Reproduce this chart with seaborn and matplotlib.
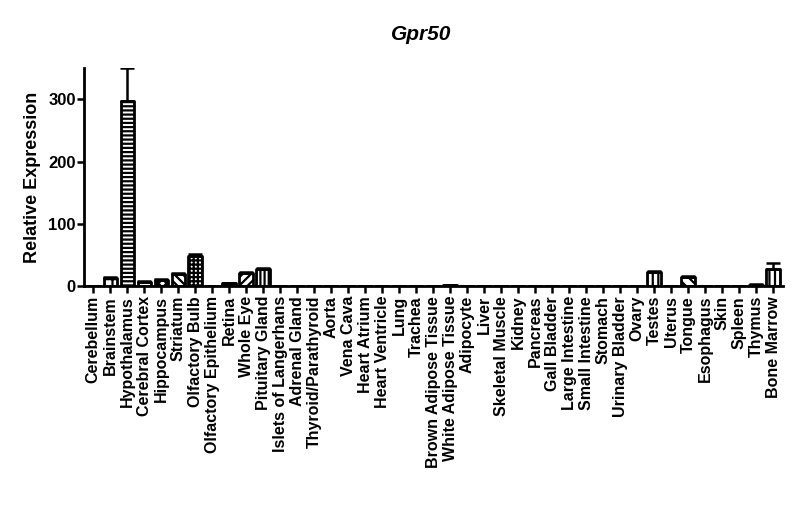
import matplotlib
matplotlib.use("Agg")
import matplotlib.pyplot as plt
import seaborn as sns
import pandas as pd
import numpy as np

tissues = [
    "Cerebellum", "Brainstem", "Hypothalamus", "Cerebral Cortex", "Hippocampus",
    "Striatum", "Olfactory Bulb", "Olfactory Epithelium", "Retina", "Whole Eye",
    "Pituitary Gland", "Islets of Langerhans", "Adrenal Gland", "Thyroid/Parathyroid",
    "Aorta", "Vena Cava", "Heart Atrium", "Heart Ventricle", "Lung", "Trachea",
    "Brown Adipose Tissue", "White Adipose Tissue", "Adipocyte", "Liver",
    "Skeletal Muscle", "Kidney", "Pancreas", "Gall Bladder", "Large Intestine",
    "Small Intestine", "Stomach", "Urinary Bladder", "Ovary", "Testes", "Uterus",
    "Tongue", "Esophagus", "Skin", "Spleen", "Thymus", "Bone Marrow",
]
expression = [
    0.3, 13, 298, 7, 10,
    19, 49, 0.5, 4.5, 21,
    27, 0.3, 0.3, 0.3,
    0.3, 0.3, 0.3, 0.3, 0.3, 0.3,
    0.3, 1.5, 0.3, 0.3,
    0.3, 0.3, 0.3, 0.3, 0.3,
    0.3, 0.3, 0.3, 0.3, 22, 0.3,
    15, 0.3, 0.3, 0.3, 2.5, 28,
]
sem = [
    0, 1.5, 52, 0.8, 1,
    1.5, 2.5, 0, 0.5, 1.5,
    2, 0, 0, 0,
    0, 0, 0, 0, 0, 0,
    0, 0.3, 0, 0,
    0, 0, 0, 0, 0,
    0, 0, 0, 0, 2.5, 0,
    1.5, 0, 0, 0, 0.3, 10,
]

# hatch pattern per bar (GraphPad style)
hatches = [
    "", "++", "----", "---", "xxxx",
    "\\\\\\\\", "++++", "", "oooo", "////",
    "||||", "", "----", "xxxx",
    "", "////", "", "||||", "", "----",
    "", "\\\\\\\\", "", "||||",
    "", "xxxx", "", "----", "",
    "////", "", "||||", "", "|||", "",
    "\\\\\\", "", "----", "", "////", "|||",
]

df = pd.DataFrame({"tissue": tissues, "expr": expression, "sem": sem})

sns.set_style("ticks")
plt.rcParams["font.family"] = ["Liberation Sans", "DejaVu Sans"]
plt.rcParams["font.weight"] = "bold"
plt.rcParams["text.color"] = "black"
plt.rcParams["axes.labelcolor"] = "black"
plt.rcParams["xtick.color"] = "black"
plt.rcParams["ytick.color"] = "black"
plt.rcParams["axes.edgecolor"] = "black"
plt.rcParams["hatch.linewidth"] = 1.6
plt.rcParams["hatch.color"] = "black"

fig = plt.figure(figsize=(8, 5.28), dpi=100)
ax = fig.add_axes([0.105, 0.458, 0.874, 0.413])

sns.barplot(data=df, x="tissue", y="expr", color="white", edgecolor="black",
            linewidth=2.0, width=0.8, errorbar=None, ax=ax)
for bar, h in zip(ax.patches, hatches):
    bar.set_hatch(h)
    bar.set_facecolor("white")
    bar.set_joinstyle("round")

xs = np.arange(len(tissues))
ax.errorbar(xs, df["expr"], yerr=[np.zeros(len(sem)), df["sem"]], fmt="none",
            ecolor="black", elinewidth=1.8, capsize=5, capthick=1.8, zorder=3)

ax.set_xlim(-0.55, len(tissues) - 0.4)
ax.set_ylim(0, 350)
ax.set_yticks([0, 100, 200, 300])
ax.set_xlabel("")
ax.set_ylabel("Relative Expression", fontsize=13, fontweight="bold", labelpad=5)
ax.tick_params(axis="x", rotation=90, labelsize=11.5, width=1.8, length=5, pad=2)
ax.tick_params(axis="y", labelsize=12, width=1.8, length=5, pad=1)
for lab in ax.get_xticklabels() + ax.get_yticklabels():
    lab.set_fontweight("bold")
sns.despine(ax=ax)
for s in ["left", "bottom"]:
    ax.spines[s].set_linewidth(2.0)

fig.text(0.526, 0.934, "Gpr50", ha="center", va="center", fontsize=15,
         fontweight="bold", fontstyle="italic")

fig.savefig("out.png", dpi=100)
